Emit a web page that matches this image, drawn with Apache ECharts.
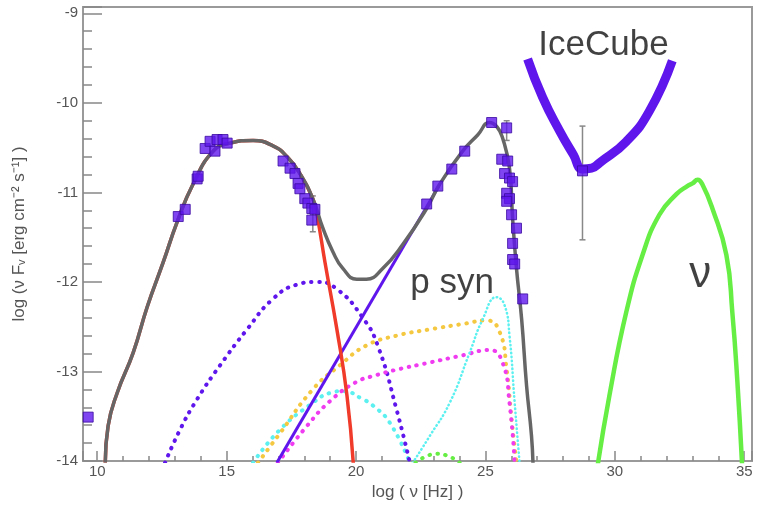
<!DOCTYPE html>
<html><head><meta charset="utf-8">
<script src="https://cdn.jsdelivr.net/npm/echarts@6/dist/echarts.min.js"></script>
<style>html,body{margin:0;padding:0;background:#fff}#c{width:758px;height:506px}</style>
</head><body><div id="c"></div>
<script>
// x = log(nu [Hz]), y = log(nu F_nu)
const totalModel = [[10.31,-14.02],[10.42,-13.61],[10.77,-13.24],[11.39,-12.79],[11.93,-12.28],[12.55,-11.78],[13.09,-11.33],[13.70,-10.91],[14.48,-10.54],[15.13,-10.45],[16.02,-10.42],[16.79,-10.48],[17.33,-10.60],[17.83,-10.79],[18.33,-11.07],[18.72,-11.40],[19.10,-11.66],[19.49,-11.85],[20.03,-11.97],[20.40,-11.97],[21.03,-11.85],[21.81,-11.58],[22.73,-11.18],[23.23,-10.91],[24.12,-10.54],[24.70,-10.36],[25.16,-10.22],[25.45,-10.27],[25.66,-10.39],[25.93,-10.73],[26.05,-11.29],[26.20,-11.85],[26.40,-12.42],[26.59,-13.16],[26.78,-13.72],[26.84,-14.05]];
const electronSyn = [[10.31,-14.02],[10.42,-13.61],[10.77,-13.24],[11.39,-12.79],[11.93,-12.28],[12.55,-11.78],[13.09,-11.33],[13.70,-10.91],[14.48,-10.54],[15.13,-10.45],[16.02,-10.42],[16.79,-10.48],[17.33,-10.60],[17.83,-10.79],[18.33,-11.07],[18.49,-11.25],[18.80,-11.78],[19.26,-12.53],[19.65,-13.27],[19.90,-14.05]];
const sscLine = [[16.94,-14.02],[23.20,-10.93]];
const purpleDots = [[12.62,-14.02],[13.20,-13.65],[13.86,-13.31],[14.75,-12.93],[15.79,-12.53],[16.79,-12.19],[17.72,-12.03],[18.49,-12.00],[19.26,-12.08],[20.26,-12.40],[20.85,-12.72],[21.57,-13.43],[22.08,-14.02]];
const yellowDots = [[16.21,-14.02],[17.06,-13.69],[18.33,-13.20],[19.38,-12.93],[20.40,-12.71],[21.57,-12.60],[22.85,-12.53],[24.12,-12.47],[25.05,-12.43],[25.55,-12.56],[25.82,-12.98],[26.01,-13.54],[26.20,-14.02]];
const magentaDots = [[16.98,-14.02],[18.10,-13.61],[19.00,-13.33],[20.00,-13.12],[20.80,-13.04],[21.57,-12.98],[22.85,-12.90],[24.12,-12.82],[25.16,-12.76],[25.66,-12.90],[25.93,-13.35],[26.13,-14.02]];
const cyanDots = [[16.02,-14.02],[17.06,-13.65],[18.33,-13.35],[19.00,-13.24],[19.50,-13.22],[20.26,-13.31],[20.65,-13.38],[21.30,-13.57],[22.08,-14.02]];
const protonSyn = [[22.19,-14.02],[22.85,-13.72],[23.62,-13.35],[24.39,-12.79],[24.89,-12.42],[25.43,-12.17],[25.74,-12.26],[25.93,-12.60],[26.13,-13.35],[26.32,-14.02]];
const greenDots = [[22.30,-14.02],[22.70,-13.95],[23.12,-13.92],[23.60,-13.95],[24.00,-14.02]];
const neutrino = [[29.33,-14.06],[29.79,-13.27],[30.44,-12.34],[31.07,-11.70],[31.72,-11.25],[32.38,-11.02],[32.80,-10.93],[33.00,-10.90],[33.20,-10.86],[33.38,-10.91],[33.77,-11.18],[34.31,-11.70],[34.54,-12.34],[34.73,-13.09],[34.92,-14.06]];
const iceCube = [[26.63,-9.51],[27.21,-9.94],[27.86,-10.31],[28.40,-10.58],[28.75,-10.74],[29.10,-10.73],[29.41,-10.67],[30.45,-10.43],[31.34,-10.09],[32.22,-9.53]];
const sedPoints = [[9.65,-13.51],[13.13,-11.27],[13.40,-11.19],[13.86,-10.85],[13.90,-10.82],[14.17,-10.51],[14.36,-10.43],[14.55,-10.54],[14.63,-10.41],[14.86,-10.41],[15.02,-10.45],[17.18,-10.65],[17.45,-10.73],[17.64,-10.79],[17.76,-10.90],[17.83,-10.96],[18.02,-11.07],[18.14,-11.12],[18.29,-11.18],[18.41,-11.19],[18.29,-11.31],[22.73,-11.13],[23.16,-10.93],[23.70,-10.74],[24.20,-10.54],[25.24,-10.22],[25.82,-10.28],[25.63,-10.63],[25.86,-10.65],[25.74,-10.79],[25.93,-10.84],[26.05,-10.88],[25.82,-11.01],[25.93,-11.07],[25.82,-11.10],[26.01,-11.25],[26.20,-11.40],[26.05,-11.57],[26.05,-11.75],[26.13,-11.80],[26.44,-12.19],[28.75,-10.76]];
const errorBars = [[18.33,-11.04,-11.44],[28.75,-10.26,-11.53],[25.82,-10.20,-10.42]];
const annotations = [[29.56,-9.36,'IceCube',35],[23.71,-12.02,'p syn',35],[33.30,-11.92,'ν',44]];

const purple = '#5f16ec';
function dots(name, data, color, w, dash){
  return {name, type:'line', data, showSymbol:false, smooth:true, silent:true,
    lineStyle:{color, width:w, type:dash, cap:'round'}};
}
const chart = echarts.init(document.getElementById('c'));
chart.setOption({
  animation:false,
  grid:{left:83, right:6, top:7, bottom:45, show:true, borderColor:'#9a9a9a', borderWidth:2},
  xAxis:{type:'value', min:9.45, max:35.3, minInterval:5, maxInterval:5,
    name:'log ( ν [Hz] )', nameLocation:'middle', nameGap:23,
    nameTextStyle:{color:'#555', fontSize:17, fontFamily:'Liberation Sans'},
    axisLine:{show:true, lineStyle:{color:'#9a9a9a', width:2}},
    axisTick:{show:true, inside:true, length:10, lineStyle:{color:'#888', width:1.5}},
    minorTick:{show:true, splitNumber:5, length:5, lineStyle:{color:'#888', width:1.5}},
    splitLine:{show:false},
    axisLabel:{color:'#555', fontSize:15, margin:3, fontFamily:'Liberation Sans',
      formatter:v=> (Math.abs(v/5-Math.round(v/5))<1e-6 ? String(Math.round(v)) : '')}
  },
  yAxis:{type:'value', min:-14, max:-8.93, interval:1,
    name:'log (ν F\u1d65 [erg cm\u207b\u00b2 s\u207b\u00b9] )', nameLocation:'middle', nameGap:55,
    nameTextStyle:{color:'#555', fontSize:17, fontFamily:'Liberation Sans'},
    axisLine:{show:true, lineStyle:{color:'#9a9a9a', width:2}},
    axisTick:{show:true, inside:true, length:19, lineStyle:{color:'#888', width:1.5}},
    minorTick:{show:true, splitNumber:5, length:9, lineStyle:{color:'#888', width:1.5}},
    splitLine:{show:false},
    axisLabel:{color:'#555', fontSize:15, margin:5, fontFamily:'Liberation Sans',
      formatter:v=> (Math.abs(v-Math.round(v))<1e-6 ? String(Math.round(v)) : '')}
  },
  series:[
    dots('cyan', cyanDots, '#5cf0f0', 4, [0.5,7.5]),
    dots('purpleDots', purpleDots, purple, 4, [0.5,7.5]),
    dots('yellow', yellowDots, '#f5c842', 4, [0.5,7.5]),
    dots('magenta', magentaDots, '#f03cf0', 4, [0.5,7.5]),
    dots('protonSyn', protonSyn, '#5cf0f0', 2.5, [0.5,3.5]),
    dots('green', greenDots, '#66ee44', 4, [0.5,7.5]),
    {name:'ssc', type:'line', data:sscLine, showSymbol:false, lineStyle:{color:purple, width:3}},
    {name:'red', type:'line', data:electronSyn, showSymbol:false, smooth:true, lineStyle:{color:'#f03a2a', width:3.5}},
    {name:'total', type:'line', data:totalModel, showSymbol:false, smooth:true, lineStyle:{color:'#666', width:3.5}},
    {name:'nu', type:'line', data:neutrino, showSymbol:false, smooth:true, lineStyle:{color:'#66ee44', width:4.5}},
    {name:'icecube', type:'line', data:iceCube, showSymbol:false, smooth:true, lineStyle:{color:purple, width:9}},
    {name:'err', type:'custom', data:errorBars, renderItem:(params, api)=>{
      const x=api.value(0), a=api.coord([x,api.value(1)]), b=api.coord([x,api.value(2)]);
      const st={stroke:'#888', lineWidth:1.5};
      return {type:'group', children:[
        {type:'line', shape:{x1:a[0],y1:a[1],x2:b[0],y2:b[1]}, style:st},
        {type:'line', shape:{x1:a[0]-3,y1:a[1],x2:a[0]+3,y2:a[1]}, style:st},
        {type:'line', shape:{x1:b[0]-3,y1:b[1],x2:b[0]+3,y2:b[1]}, style:st}]};
    }, z:3},
    {name:'sed', type:'scatter', data:sedPoints, symbol:'rect', symbolSize:10, z:4,
      itemStyle:{color:purple, borderColor:'#3a0aa0', borderWidth:1}},
    {name:'labels', type:'scatter', symbolSize:0, silent:true, z:5,
      data:annotations.map(a=>({value:[a[0],a[1]], label:{show:true, formatter:a[2], fontSize:a[3]}})),
      label:{show:true, position:'inside', color:'#111', fontFamily:'Liberation Sans', align:'center', verticalAlign:'middle'}}
  ]
});
</script></body></html>
